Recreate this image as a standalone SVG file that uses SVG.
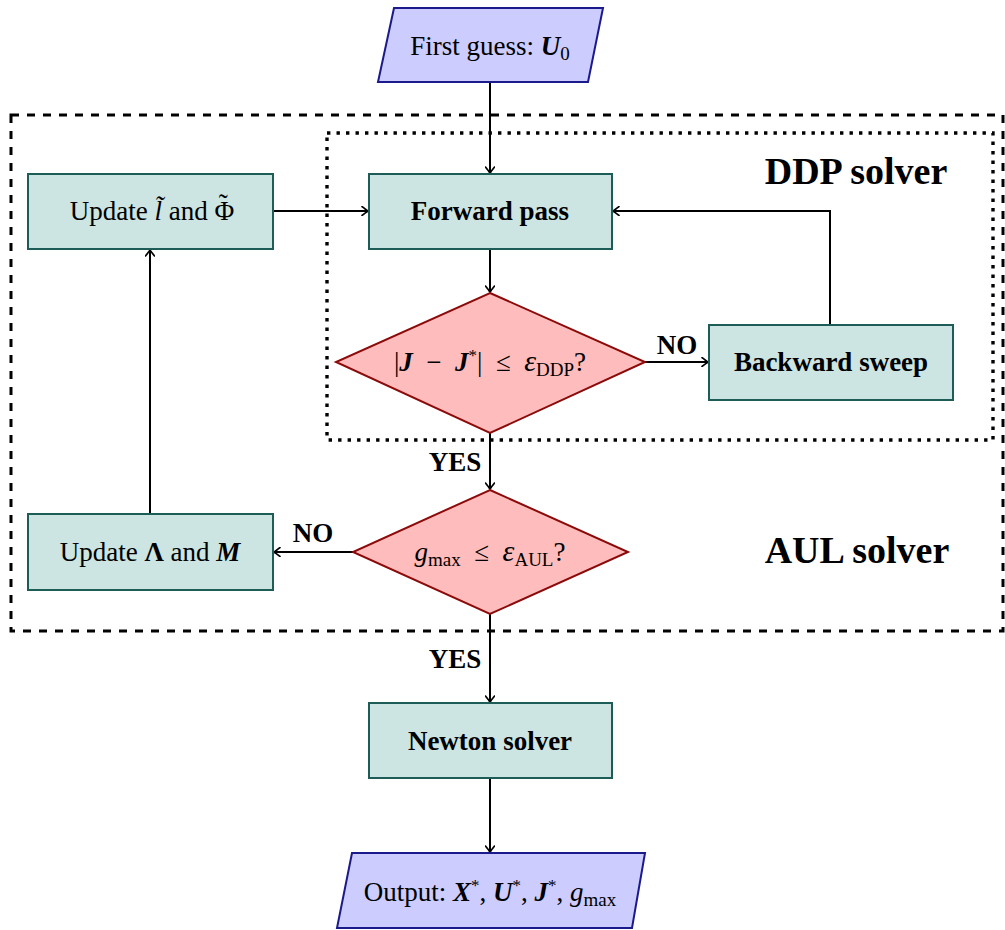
<svg xmlns="http://www.w3.org/2000/svg" width="1005" height="930" viewBox="0 0 1005 930">
  <style>
    text { font-family: "Liberation Serif", "Times New Roman", serif; fill: #000; }
    .lbl { font-size: 27px; text-anchor: middle; }
    .b { font-weight: bold; }
    .bi { font-weight: bold; font-style: italic; }
    .it { font-style: italic; }
    .title { font-size: 38px; font-weight: bold; text-anchor: middle; }
    .proc { fill: #cce5e2; stroke: #1d5c57; stroke-width: 2; }
    .dec { fill: #ffbcbc; stroke: #8b0a0a; stroke-width: 2; }
    .io { fill: #ccccff; stroke: #1a1a8c; stroke-width: 2; }
    .wire { fill: none; stroke: #000; stroke-width: 2; marker-end: url(#arr); }
    .outer { fill: none; stroke: #000; stroke-width: 3; stroke-dasharray: 8 8; }
    .inner { fill: none; stroke: #000; stroke-width: 3.4; stroke-dasharray: 3.4 6.1; }
  </style>
  <defs>
    <marker id="arr" viewBox="-7 -5 8 10" markerWidth="8" markerHeight="10" refX="0" refY="0" orient="auto" markerUnits="userSpaceOnUse">
      <path d="M-6,-4.5 Q-1.5,-1 0,0 Q-1.5,1 -6,4.5" fill="none" stroke="#000" stroke-width="1.6" stroke-linecap="round"/>
    </marker>
  </defs>

  <rect width="1005" height="930" fill="#fff"/>

  <!-- solver frames -->
  <g id="frames">
    <rect class="outer" x="11" y="115" width="992" height="516"/>
    <rect class="inner" x="327" y="133" width="666" height="307"/>
    <text class="title" x="856" y="184">DDP solver</text>
    <text class="title" x="857" y="563">AUL solver</text>
  </g>

  <!-- connectors -->
  <g id="connectors">
    <path class="wire" d="M490,82 L490,173"/>
    <path class="wire" d="M273,211 L368,211"/>
    <path class="wire" d="M490,249 L490,292"/>
    <path class="wire" d="M645,362 L708,362"/>
    <path class="wire" d="M830,325 L830,211 L613,211"/>
    <path class="wire" d="M490,433 L490,489"/>
    <path class="wire" d="M353,552 L274,552"/>
    <path class="wire" d="M150,514 L150,250"/>
    <path class="wire" d="M490,614 L490,702"/>
    <path class="wire" d="M490,778 L490,852"/>
    <text class="lbl b" x="677" y="354">NO</text>
    <text class="lbl b" x="455" y="471">YES</text>
    <text class="lbl b" x="313" y="542">NO</text>
    <text class="lbl b" x="455" y="668">YES</text>
  </g>

  <g id="first-guess">
    <path class="io" d="M394,8 L603,8 L588,82 L378,82 Z"/>
    <text class="lbl" x="490" y="55">First guess: <tspan class="bi">U</tspan><tspan font-size="19" dy="5">0</tspan></text>
  </g>

  <g id="update-l-phi">
    <rect class="proc" x="28" y="174" width="245" height="75"/>
    <text class="lbl" x="152" y="220">Update <tspan class="it">l̃</tspan>  and Φ<tspan dx="-15.5" dy="-7">˜</tspan></text>
  </g>

  <g id="forward-pass">
    <rect class="proc" x="369" y="174" width="243" height="75"/>
    <text class="lbl b" x="490" y="220">Forward pass</text>
  </g>

  <g id="ddp-check">
    <path class="dec" d="M490,293 L645,362 L490,433 L336,362 Z"/>
    <text class="lbl" x="490" y="371" xml:space="preserve">|<tspan class="bi">J</tspan>  −  <tspan class="bi">J</tspan><tspan font-size="17" dy="-10">*</tspan><tspan dy="10">|  ≤  </tspan><tspan class="it" font-size="30">ε</tspan><tspan font-size="19" dy="5">DDP</tspan><tspan dy="-5">?</tspan></text>
  </g>

  <g id="backward-sweep">
    <rect class="proc" x="709" y="325" width="244" height="75"/>
    <text class="lbl b" x="831" y="371">Backward sweep</text>
  </g>

  <g id="aul-check">
    <path class="dec" d="M490,490 L628,552 L490,614 L353,552 Z"/>
    <text class="lbl" x="490" y="561" xml:space="preserve"><tspan class="it">g</tspan><tspan font-size="19" dy="5">max</tspan><tspan dy="-5">  ≤  </tspan><tspan class="it" font-size="30">ε</tspan><tspan font-size="19" dy="5">AUL</tspan><tspan dy="-5">?</tspan></text>
  </g>

  <g id="update-lambda-m">
    <rect class="proc" x="28" y="514" width="245" height="76"/>
    <text class="lbl" x="150" y="561">Update <tspan class="b">Λ</tspan> and <tspan class="bi">M</tspan></text>
  </g>

  <g id="newton-solver">
    <rect class="proc" x="369" y="703" width="243" height="75"/>
    <text class="lbl b" x="490" y="750">Newton solver</text>
  </g>

  <g id="output">
    <path class="io" d="M352,853 L645,853 L632,928 L337,928 Z"/>
    <text class="lbl" x="490" y="901">Output:  <tspan class="bi">X</tspan><tspan font-size="17" dy="-10">*</tspan><tspan dy="10">, </tspan><tspan class="bi">U</tspan><tspan font-size="17" dy="-10">*</tspan><tspan dy="10">, </tspan><tspan class="bi">J</tspan><tspan font-size="17" dy="-10">*</tspan><tspan dy="10">, </tspan><tspan class="it">g</tspan><tspan font-size="19" dy="5">max</tspan></text>
  </g>
</svg>
